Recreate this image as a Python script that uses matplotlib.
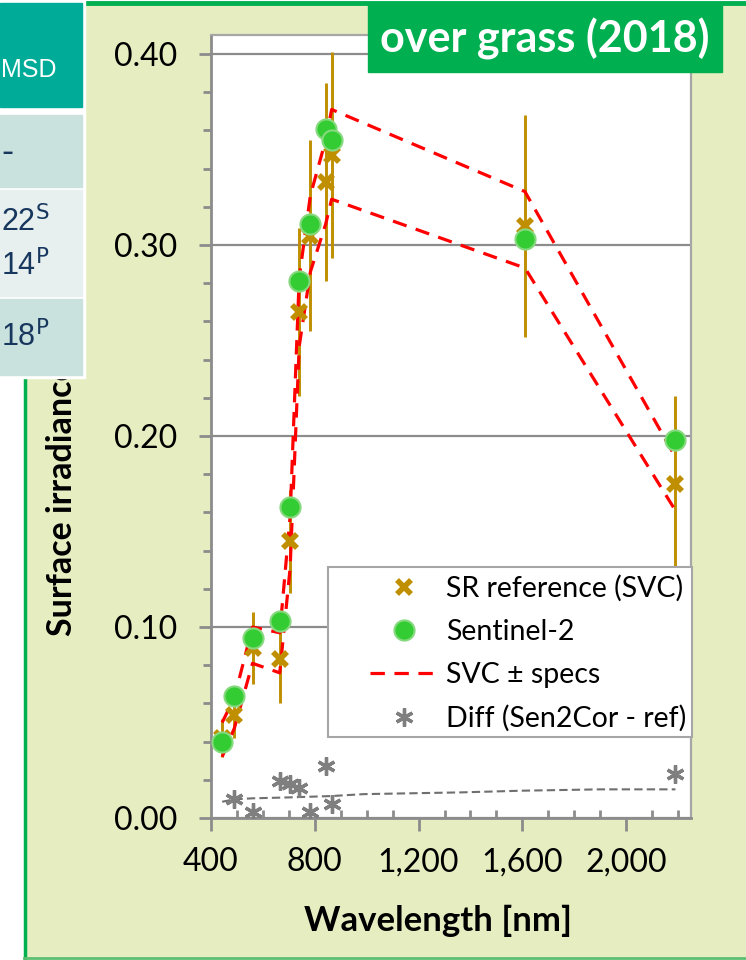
import numpy as np
import matplotlib.pyplot as plt
from matplotlib.patches import Rectangle
from matplotlib.lines import Line2D
from matplotlib.ticker import MultipleLocator, FuncFormatter

# Sentinel-2 band centres [nm]
wavelength = [443, 490, 560, 665, 705, 740, 783, 842, 865, 1610, 2190]
sentinel2 = [0.040, 0.064, 0.094, 0.103, 0.163, 0.281, 0.311, 0.361, 0.355, 0.303, 0.198]
sr_ref = [0.042, 0.054, 0.089, 0.083, 0.145, 0.265, 0.305, 0.333, 0.347, 0.310, 0.175]
sr_err = [0.010, 0.012, 0.019, 0.023, 0.027, 0.044, 0.050, 0.052, 0.054, 0.058, 0.046]
svc_upper = [0.050, 0.063, 0.100, 0.097, 0.158, 0.283, 0.326, 0.355, 0.371, 0.328, 0.189]
svc_lower = [0.032, 0.047, 0.081, 0.076, 0.131, 0.247, 0.286, 0.311, 0.324, 0.288, 0.161]
diff = [np.nan, 0.010, 0.003, 0.0195, 0.018, 0.0155, 0.003, 0.027, 0.0075, np.nan, 0.023]
spec_wl = [443, 490, 560, 705, 865, 990, 1360, 1600, 1900, 2190]
spec_line = [0.0085, 0.0098, 0.0103, 0.0108, 0.0115, 0.0125, 0.0134, 0.0143, 0.0150, 0.0150]

W, H = 746, 960
plt.rcParams['font.family'] = ['Lato', 'DejaVu Sans']
fig = plt.figure(figsize=(W / 100, H / 100), dpi=100)

gold = '#BF8F00'
green = '#33CC33'
grey = '#7F7F7F'

# slide background (pixel coords)
bg = fig.add_axes([0, 0, 1, 1], zorder=-1)
bg.set_xlim(0, W)
bg.set_ylim(H, 0)
bg.axis('off')
bg.add_patch(Rectangle((26, 5), W - 26, 951, color='#E6EEC1'))
bg.plot([24.5, 24.5], [375, 958], color='#00B050', lw=2.5)
bg.plot([85, W], [2.5, 2.5], color='#00B050', lw=3.5)
bg.plot([24, W], [957.5, 957.5], color='#5CBF6F', lw=2)
bg.text(62, 636, 'Surface irradiance reflectance', rotation=90, ha='center',
        va='bottom', fontsize=24.5, fontweight='bold')
bg.text(438, 921, 'Wavelength [nm]', ha='center', va='center',
        fontsize=25, fontweight='bold')

ax = fig.add_axes([211 / W, 1 - 818 / H, 480 / W, 783 / H], zorder=1)
ax.set_facecolor('white')

ax.errorbar(wavelength, sr_ref, yerr=sr_err, fmt='none', ecolor=gold,
            elinewidth=2.1, zorder=2)
ax.plot(wavelength, svc_upper, color='red', lw=2.3, ls=(0, (4.5, 3)), zorder=3)
ax.plot(wavelength, svc_lower, color='red', lw=2.3, ls=(0, (4.5, 3)), zorder=3)
ax.plot(spec_wl, spec_line, color='#6F6F6F', lw=1.5, ls=(0, (4, 2)), zorder=3)
ax.plot(wavelength, diff, ls='none', marker=(6, 2, 0), ms=13, mec=grey,
        mew=2.4, zorder=3)
ax.plot(wavelength, sr_ref, ls='none', marker='x', ms=10, mec=gold, mew=4,
        zorder=4)
ax.plot(wavelength, sentinel2, ls='none', marker='o', ms=14.5, mfc=green,
        mec='#86D97E', mew=1.5, zorder=5)

ax.set_xlim(400, 2250)
ax.set_ylim(0, 0.41)
ax.xaxis.set_major_locator(MultipleLocator(400))
ax.xaxis.set_minor_locator(MultipleLocator(100))
ax.yaxis.set_major_locator(MultipleLocator(0.1))
ax.yaxis.set_minor_locator(MultipleLocator(0.02))
ax.xaxis.set_major_formatter(FuncFormatter(lambda v, p: f'{v:,.0f}'))
ax.yaxis.set_major_formatter(FuncFormatter(lambda v, p: f'{v:.2f}'))
ax.grid(axis='y', which='major', color='#8C8C8C', lw=1.6)
ax.set_axisbelow(True)
ax.tick_params(axis='both', which='major', labelsize=23, color='#8C8C8C',
               width=2, length=9, direction='out')
ax.tick_params(axis='y', which='major', pad=15)
ax.tick_params(axis='x', which='major', pad=12)
ax.tick_params(axis='y', which='minor', color='#8C8C8C', width=2, length=6,
               direction='out')
ax.tick_params(axis='x', which='minor', color='#8C8C8C', width=2, length=6,
               direction='in')
for side in ['left', 'bottom']:
    ax.spines[side].set_color('#8C8C8C')
    ax.spines[side].set_linewidth(2)
for side in ['top', 'right']:
    ax.spines[side].set_color('#A6A6A6')
    ax.spines[side].set_linewidth(1.6)

# legend with its own frame
ax.add_patch(Rectangle((328 / W, 1 - 737 / H), 364 / W, 170 / H,
                       transform=fig.transFigure, facecolor='white',
                       edgecolor='#A6A6A6', lw=1.5, zorder=6, clip_on=False))
handles = [
    Line2D([], [], ls='none', marker='x', ms=10, mec=gold, mew=4),
    Line2D([], [], ls='none', marker='o', ms=14.5, mfc=green, mec='#86D97E', mew=1.5),
    Line2D([], [], color='red', lw=2.3, ls=(0, (4.5, 3))),
    Line2D([], [], ls='none', marker=(6, 2, 0), ms=13, mec=grey, mew=2.4),
]
labels = ['SR reference (SVC)', 'Sentinel-2', 'SVC \u00b1 specs', 'Diff (Sen2Cor - ref)']
leg = ax.legend(handles, labels, loc='upper left', frameon=False,
                bbox_to_anchor=(370 / W, 1 - 575 / H), bbox_transform=fig.transFigure,
                borderpad=0, borderaxespad=0, handlelength=2.36, handletextpad=0.3,
                labelspacing=0.6, fontsize=20.5)
leg.set_zorder(7)

# overlay: table fragment and title box
ov = fig.add_axes([0, 0, 1, 1], zorder=10)
ov.set_xlim(0, W)
ov.set_ylim(H, 0)
ov.axis('off')
ov.patch.set_alpha(0)
ov.add_patch(Rectangle((0, 0), 85, 378, color='white'))
ov.add_patch(Rectangle((0, 3), 82, 104, color='#00AC98'))
ov.add_patch(Rectangle((0, 115), 82, 72, color='#CAE2DE'))
ov.add_patch(Rectangle((0, 190), 82, 106, color='#E7F0EE'))
ov.add_patch(Rectangle((0, 299), 82, 76, color='#CAE2DE'))
navy = '#17375E'
ov.text(1, 70, 'MSD', color='white', fontsize=18, family='Liberation Sans',
        va='center', ha='left')
ov.text(1, 152, '-', color=navy, fontsize=26, family='Liberation Sans',
        va='center', ha='left')
ov.text(1, 222, '22$^{\\mathrm{S}}$', color=navy, fontsize=22,
        family='Liberation Sans', va='center', ha='left')
ov.text(1, 266, '14$^{\\mathrm{P}}$', color=navy, fontsize=22,
        family='Liberation Sans', va='center', ha='left')
ov.text(1, 337, '18$^{\\mathrm{P}}$', color=navy, fontsize=22,
        family='Liberation Sans', va='center', ha='left')

ov.add_patch(Rectangle((368, 5), 354, 67, color='#00B050'))
ov.text(545, 39, 'over grass (2018)', color='white', fontsize=31,
        fontweight='bold', ha='center', va='center')

fig.savefig('out.png', dpi=100)
